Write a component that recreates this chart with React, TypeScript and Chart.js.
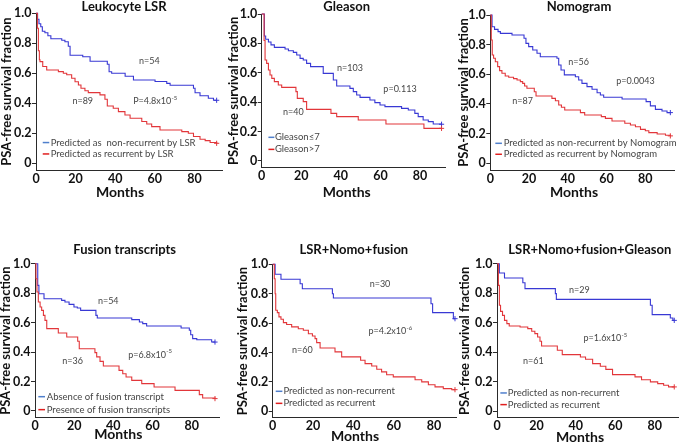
import React, { useEffect, useRef } from 'react';
import { Chart, registerables } from 'chart.js';

Chart.register(...registerables);

// ---------------- data ----------------
const xTicks = [0, 20, 40, 60, 80];
const yTicks = [0, 0.2, 0.4, 0.6, 0.8, 1.0];
const yTickLabels = ['0', '0.2', '0.4', '0.6', '0.8', '1.0'];

// Leukocyte LSR
const lsrNonRecMonths = [0, 0.8, 1.5, 2.4, 3.2, 4.5, 6, 7.5, 13, 14.6, 16.3, 17.2, 23.6, 27.3, 36, 36.9, 38.2, 45, 49.2, 60.1, 66, 67.7, 79.5, 80.3, 82.8, 87, 89.6, 91.2];
const lsrNonRecSurv = [1, 0.96, 0.93, 0.91, 0.88, 0.87, 0.85, 0.83, 0.82, 0.81, 0.78, 0.72, 0.71, 0.68, 0.66, 0.61, 0.6, 0.58, 0.555, 0.545, 0.533, 0.52, 0.5, 0.47, 0.45, 0.433, 0.42, 0.42];
const lsrRecMonths = [0, 0.7, 1.2, 1.7, 2, 3.4, 5.4, 11.3, 13.8, 15.5, 18, 19.7, 21.4, 22.7, 24.7, 26.4, 32.3, 34.8, 36, 39, 41.6, 44.9, 47.5, 53.4, 55.9, 58.4, 62.6, 73.6, 76.9, 79.5, 82.8, 85.4, 87.9, 91.2];
const lsrRecSurv = [1, 0.9, 0.75, 0.69, 0.678, 0.645, 0.622, 0.611, 0.6, 0.59, 0.567, 0.544, 0.522, 0.5, 0.484, 0.471, 0.456, 0.427, 0.382, 0.367, 0.344, 0.322, 0.3, 0.278, 0.262, 0.244, 0.222, 0.211, 0.2, 0.178, 0.16, 0.151, 0.138, 0.133];

// Gleason
const gleasonLowMonths = [0, 1.35, 2, 3.4, 4.7, 6.4, 11.8, 13.5, 16, 17.7, 19.4, 21, 22.7, 24.7, 31.1, 36.2, 37.9, 44.6, 46.3, 48, 49.7, 54.7, 57.2, 59.8, 62.3, 70.7, 74.1, 77.4, 79.1, 81.6, 84.2, 86.7, 90.9];
const gleasonLowSurv = [1, 0.85, 0.828, 0.81, 0.79, 0.773, 0.762, 0.75, 0.739, 0.721, 0.698, 0.687, 0.664, 0.642, 0.596, 0.551, 0.51, 0.494, 0.472, 0.449, 0.433, 0.415, 0.397, 0.381, 0.37, 0.358, 0.347, 0.324, 0.302, 0.279, 0.268, 0.252, 0.25];
const gleasonHighMonths = [0, 1.2, 1.7, 2.5, 3.4, 4.2, 5.1, 6.4, 8.4, 10.1, 17.3, 18, 21, 22.7, 35, 37.9, 48.8, 62.8, 82, 90.9];
const gleasonHighSurv = [1, 0.82, 0.687, 0.664, 0.619, 0.585, 0.562, 0.54, 0.517, 0.501, 0.472, 0.426, 0.404, 0.351, 0.324, 0.302, 0.279, 0.252, 0.222, 0.222];

// Nomogram
const nomoNonRecMonths = [0, 0.9, 2.2, 4, 5.2, 11.2, 17.4, 18.4, 19.8, 21.9, 24.1, 25.8, 34.4, 35.3, 36.5, 38.2, 43.9, 45.6, 47.3, 49.9, 52.5, 55.1, 56.8, 58.5, 68, 80.4, 82.6, 85.2, 88.6, 91.2, 92.9];
const nomoNonRecSurv = [1, 0.921, 0.903, 0.888, 0.876, 0.865, 0.843, 0.809, 0.787, 0.764, 0.742, 0.719, 0.708, 0.663, 0.629, 0.596, 0.584, 0.562, 0.539, 0.517, 0.499, 0.476, 0.461, 0.445, 0.434, 0.416, 0.387, 0.364, 0.353, 0.342, 0.342];
const nomoRecMonths = [0, 0.5, 1, 1.7, 2.6, 3.8, 4.8, 6, 7.7, 9.5, 12, 13.8, 15.5, 16.7, 17.7, 18.9, 22.7, 23.6, 31.8, 33.6, 35.3, 36.7, 38.4, 46.5, 48.7, 57.3, 59.4, 62.8, 69.4, 72.3, 74.9, 77.5, 80, 81.8, 86.1, 90.4, 92.9];
const nomoRecSurv = [1, 0.831, 0.73, 0.708, 0.685, 0.652, 0.625, 0.607, 0.589, 0.58, 0.571, 0.562, 0.551, 0.539, 0.521, 0.506, 0.483, 0.454, 0.438, 0.422, 0.393, 0.378, 0.36, 0.342, 0.326, 0.315, 0.303, 0.285, 0.27, 0.258, 0.247, 0.229, 0.22, 0.207, 0.198, 0.189, 0.185];

// Fusion transcripts
const fusionAbsentMonths = [0, 1.4, 2, 4.6, 13.6, 15.3, 17.4, 19.9, 21.6, 23.3, 31.1, 31.8, 49.4, 53.3, 55, 57, 74.6, 78.8, 79.5, 80.5, 82.6, 90.2, 91.9];
const fusionAbsentSurv = [1, 0.853, 0.796, 0.762, 0.751, 0.74, 0.724, 0.706, 0.699, 0.683, 0.649, 0.631, 0.62, 0.604, 0.593, 0.577, 0.563, 0.548, 0.518, 0.491, 0.484, 0.468, 0.468];
const fusionPresentMonths = [0, 0.5, 1, 1.7, 2.6, 3.4, 4.3, 5.1, 6, 11.9, 16.2, 21.8, 22.6, 30.6, 31.5, 33.2, 34.9, 42.9, 44.8, 46.5, 49.4, 54.5, 60.8, 71.5, 83.9, 85.6, 91.9];
const fusionPresentSurv = [1, 0.898, 0.808, 0.74, 0.706, 0.683, 0.649, 0.615, 0.559, 0.529, 0.502, 0.473, 0.423, 0.396, 0.367, 0.337, 0.305, 0.276, 0.253, 0.231, 0.208, 0.186, 0.163, 0.14, 0.111, 0.088, 0.084];

// LSR+Nomo+fusion
const comboNonRecMonths = [0, 1.2, 4.1, 13.6, 14.7, 29.6, 30.1, 78.5, 79.3, 89.6, 90.4];
const comboNonRecSurv = [1, 0.932, 0.898, 0.868, 0.834, 0.8, 0.771, 0.732, 0.671, 0.63, 0.63];
const comboRecMonths = [0, 0.8, 1.2, 1.5, 2.3, 3.1, 4.1, 5.3, 6.9, 9.4, 12.7, 15.2, 17.7, 19.7, 21, 21.8, 23.5, 30.9, 34.2, 43.6, 45.8, 49.1, 51.6, 54, 56.5, 59.8, 70.6, 73.9, 77.2, 80.5, 84.6, 88.8, 90.4];
const comboRecSurv = [1, 0.902, 0.8, 0.687, 0.671, 0.642, 0.626, 0.603, 0.59, 0.574, 0.562, 0.551, 0.528, 0.512, 0.494, 0.467, 0.431, 0.404, 0.37, 0.347, 0.324, 0.308, 0.286, 0.268, 0.249, 0.234, 0.215, 0.2, 0.181, 0.166, 0.154, 0.147, 0.147];

// LSR+Nomo+fusion+Gleason
const allNonRecMonths = [0, 1.2, 3.8, 13.1, 14.2, 29.6, 30.1, 77.8, 78.7, 87.9, 89.2, 89.9];
const allNonRecSurv = [1, 0.937, 0.903, 0.871, 0.831, 0.797, 0.758, 0.718, 0.655, 0.632, 0.616, 0.616];
const allRecMonths = [0, 0.7, 1.2, 1.8, 2.8, 3.8, 5, 6.2, 11.7, 15.6, 17.6, 19.2, 20.6, 21.8, 22.6, 30.6, 33.1, 42.3, 44.9, 48.5, 52.4, 55.2, 58.6, 70, 73.3, 77.8, 81.5, 84.5, 87, 89.9];
const allRecSurv = [1, 0.853, 0.718, 0.677, 0.65, 0.616, 0.594, 0.578, 0.571, 0.56, 0.542, 0.526, 0.503, 0.474, 0.442, 0.413, 0.384, 0.368, 0.352, 0.323, 0.305, 0.284, 0.248, 0.233, 0.214, 0.199, 0.187, 0.176, 0.165, 0.165];

// ---------------- styles & layout ----------------
const FAMILY = 'Lato, "Open Sans", "DejaVu Sans", sans-serif';
const BLUE = '#3838d4';
const RED = '#e2363a';
const LEG_BLUE = '#4f7fcc';
const LEG_RED = '#e01e1e';
const AXIS = '#2a2a2a';
const TEXT = '#454545';
const Y_MIN = -0.045;
const X_AXIS_H = 24;

type Ann = { x: number; y: number; text: string; sup?: string };
type Panel = {
  title: string;
  blue: { months: number[]; surv: number[]; label: string };
  red: { months: number[]; surv: number[]; label: string };
  anns: Ann[];
  legend: { x1: number; x2: number; tx: number; y1: number; y2: number };
  canvas: { left: number; top: number; width: number; height: number };
  area: { left: number; top: number; right: number; bottom: number };
  xMax: number;
  titlePos: [number, number];
  monthsPos: [number, number];
  yTitleX: number;
};

const panels: Panel[] = [
  {
    title: 'Leukocyte LSR',
    blue: { months: lsrNonRecMonths, surv: lsrNonRecSurv, label: 'Predicted as  non-recurrent by LSR' },
    red: { months: lsrRecMonths, surv: lsrRecSurv, label: 'Predicted as recurrent by LSR' },
    anns: [
      { x: 57.2, y: 0.684, text: 'n=54' },
      { x: 23.6, y: 0.416, text: 'n=89' },
      { x: 60.1, y: 0.416, text: 'P=4.8x10', sup: '-5' },
    ],
    legend: { x1: 3.4, x2: 6.7, tx: 7.4, y1: 0.138, y2: 0.062 },
    canvas: { left: 0, top: 0, width: 230, height: 222 },
    area: { left: 36, top: 13.3, right: 222.2, bottom: 170 },
    xMax: 94,
    titlePos: [124, 7],
    monthsPos: [120, 192],
    yTitleX: 7,
  },
  {
    title: 'Gleason',
    blue: { months: gleasonLowMonths, surv: gleasonLowSurv, label: 'Gleason\u22647' },
    red: { months: gleasonHighMonths, surv: gleasonHighSurv, label: 'Gleason>7' },
    anns: [
      { x: 44.6, y: 0.635, text: 'n=103' },
      { x: 69.9, y: 0.488, text: 'p=0.113' },
      { x: 16, y: 0.336, text: 'n=40' },
    ],
    legend: { x1: 3.4, x2: 6.4, tx: 6.7, y1: 0.161, y2: 0.079 },
    canvas: { left: 226, top: 0, width: 228, height: 222 },
    area: { left: 261.7, top: 14, right: 445.7, bottom: 167.6 },
    xMax: 93,
    titlePos: [346.7, 7],
    monthsPos: [346.7, 192.7],
    yTitleX: 234,
  },
  {
    title: 'Nomogram',
    blue: { months: nomoNonRecMonths, surv: nomoNonRecSurv, label: 'Predicted as non-recurrent by Nomogram' },
    red: { months: nomoRecMonths, surv: nomoRecSurv, label: 'Predicted as recurrent by Nomogram' },
    anns: [
      { x: 45.6, y: 0.685, text: 'n=56' },
      { x: 74.9, y: 0.555, text: 'p=0.0043' },
      { x: 16.7, y: 0.422, text: 'n=87' },
    ],
    legend: { x1: 2.6, x2: 6, tx: 6.9, y1: 0.135, y2: 0.061 },
    canvas: { left: 455, top: 0, width: 227, height: 222 },
    area: { left: 490.3, top: 15, right: 674.4, bottom: 170 },
    xMax: 95,
    titlePos: [579, 7],
    monthsPos: [574, 192.3],
    yTitleX: 463.7,
  },
  {
    title: 'Fusion transcripts',
    blue: { months: fusionAbsentMonths, surv: fusionAbsentSurv, label: 'Absence of fusion transcript' },
    red: { months: fusionPresentMonths, surv: fusionPresentSurv, label: 'Presence of fusion transcripts' },
    anns: [
      { x: 37.4, y: 0.747, text: 'n=54' },
      { x: 19.2, y: 0.337, text: 'n=36' },
      { x: 58.7, y: 0.382, text: 'p=6.8x10', sup: '-5' },
    ],
    legend: { x1: 1.7, x2: 5.1, tx: 6, y1: 0.097, y2: 0.009 },
    canvas: { left: 0, top: 222, width: 230, height: 222 },
    area: { left: 35, top: 263.7, right: 219.1, bottom: 417.6 },
    xMax: 94,
    titlePos: [124.7, 250],
    monthsPos: [118.3, 434],
    yTitleX: 5.7,
  },
  {
    title: 'LSR+Nomo+fusion',
    blue: { months: comboNonRecMonths, surv: comboNonRecSurv, label: 'Predicted as non-recurrent' },
    red: { months: comboRecMonths, surv: comboRecSurv, label: 'Predicted as recurrent' },
    anns: [
      { x: 53.2, y: 0.862, text: 'n=30' },
      { x: 58.3, y: 0.544, text: 'p=4.2x10', sup: '-6' },
      { x: 14.7, y: 0.415, text: 'n=60' },
    ],
    legend: { x1: 1.5, x2: 4.8, tx: 5.3, y1: 0.136, y2: 0.054 },
    canvas: { left: 232, top: 222, width: 230, height: 222 },
    area: { left: 272.7, top: 264.3, right: 456.2, bottom: 417.9 },
    xMax: 91,
    titlePos: [353.8, 250],
    monthsPos: [355, 436],
    yTitleX: 243.3,
  },
  {
    title: 'LSR+Nomo+fusion+Gleason',
    blue: { months: allNonRecMonths, surv: allNonRecSurv, label: 'Predicted as non-recurrent' },
    red: { months: allRecMonths, surv: allRecSurv, label: 'Predicted as recurrent' },
    anns: [
      { x: 41.8, y: 0.819, text: 'n=29' },
      { x: 54.9, y: 0.497, text: 'p=1.6x10', sup: '-5' },
      { x: 18.4, y: 0.341, text: 'n=61' },
    ],
    legend: { x1: 1.7, x2: 5, tx: 5.5, y1: 0.124, y2: 0.045 },
    canvas: { left: 456, top: 222, width: 226, height: 222 },
    area: { left: 497, top: 263.7, right: 680.1, bottom: 417.9 },
    xMax: 92,
    titlePos: [589.8, 250],
    monthsPos: [580, 437],
    yTitleX: 465.3,
  },
];

function toPoints(months: number[], surv: number[]) {
  return months.map((m, i) => ({ x: m, y: surv[i] }));
}

function endMarks(n: number) {
  return Array.from({ length: n }, (_, i) => (i === n - 1 ? 2.6 : 0));
}

function KMPanel({ p }: { p: Panel }) {
  const ref = useRef<HTMLCanvasElement | null>(null);

  useEffect(() => {
    if (!ref.current) return;
    const { canvas: cv, area } = p;
    const yAxisW = area.left - cv.left;
    const pad = {
      left: 0,
      top: area.top - cv.top,
      right: cv.left + cv.width - area.right,
      bottom: cv.top + cv.height - area.bottom - X_AXIS_H,
    };

    const textPlugin = {
      id: 'kmText',
      afterDraw(chart: any) {
        const ctx = chart.ctx as CanvasRenderingContext2D;
        const xs = chart.scales.x;
        const ys = chart.scales.y;
        ctx.save();
        ctx.textBaseline = 'middle';
        // title
        ctx.fillStyle = '#111';
        ctx.textAlign = 'center';
        ctx.font = `bold 13px ${FAMILY}`;
        ctx.fillText(p.title, p.titlePos[0] - cv.left, p.titlePos[1] - cv.top);
        // x axis title
        ctx.font = `bold 14px ${FAMILY}`;
        ctx.fillText('Months', p.monthsPos[0] - cv.left, p.monthsPos[1] - cv.top);
        // annotations
        ctx.fillStyle = TEXT;
        ctx.textAlign = 'left';
        p.anns.forEach((a) => {
          ctx.font = `9px ${FAMILY}`;
          const w1 = ctx.measureText(a.text).width;
          let w2 = 0;
          if (a.sup) {
            ctx.font = `6px ${FAMILY}`;
            w2 = ctx.measureText(a.sup).width;
          }
          const px = xs.getPixelForValue(a.x) - (w1 + w2) / 2;
          const py = ys.getPixelForValue(a.y);
          ctx.font = `9px ${FAMILY}`;
          ctx.fillText(a.text, px, py);
          if (a.sup) {
            ctx.font = `6px ${FAMILY}`;
            ctx.fillText(a.sup, px + w1 + 0.3, py - 3.2);
          }
        });
        // legend
        const lg = p.legend;
        const items = [
          { y: lg.y1, color: LEG_BLUE, text: p.blue.label },
          { y: lg.y2, color: LEG_RED, text: p.red.label },
        ];
        items.forEach((it) => {
          const py = ys.getPixelForValue(it.y);
          ctx.strokeStyle = it.color;
          ctx.lineWidth = 1.5;
          ctx.beginPath();
          ctx.moveTo(xs.getPixelForValue(lg.x1), py);
          ctx.lineTo(xs.getPixelForValue(lg.x2), py);
          ctx.stroke();
          ctx.fillStyle = TEXT;
          ctx.font = `9.5px ${FAMILY}`;
          ctx.fillText(it.text, xs.getPixelForValue(lg.tx), py);
        });
        ctx.restore();
      },
    };

    const chart = new Chart(ref.current, {
      type: 'line',
      data: {
        datasets: [
          {
            label: p.red.label,
            data: toPoints(p.red.months, p.red.surv),
            borderColor: RED,
            backgroundColor: RED,
            borderWidth: 1.1,
            stepped: true,
            fill: false,
            pointStyle: 'cross',
            pointRadius: endMarks(p.red.months.length),
            pointBorderColor: RED,
            pointBorderWidth: 1,
            pointHoverRadius: 0,
            clip: false as any,
          },
          {
            label: p.blue.label,
            data: toPoints(p.blue.months, p.blue.surv),
            borderColor: BLUE,
            backgroundColor: BLUE,
            borderWidth: 1.1,
            stepped: true,
            fill: false,
            pointStyle: 'cross',
            pointRadius: endMarks(p.blue.months.length),
            pointBorderColor: BLUE,
            pointBorderWidth: 1,
            pointHoverRadius: 0,
            clip: false as any,
          },
        ],
      },
      options: {
        responsive: false,
        animation: false,
        devicePixelRatio: 1,
        layout: { padding: pad },
        events: [],
        plugins: {
          legend: { display: false },
          tooltip: { enabled: false },
          title: { display: false },
        },
        scales: {
          x: {
            type: 'linear',
            min: 0,
            max: p.xMax,
            afterBuildTicks: (s: any) => {
              s.ticks = xTicks.map((v) => ({ value: v }));
            },
            afterFit: (s: any) => {
              s.height = X_AXIS_H;
            },
            ticks: {
              autoSkip: false,
              maxRotation: 0,
              minRotation: 0,
              padding: 1,
              color: '#111',
              font: { family: FAMILY, size: 12.5, weight: 'bold' },
              callback: (_v: any, i: number) => String(xTicks[i]),
            },
            grid: { display: false, drawTicks: false, tickLength: 0 },
            border: { display: true, color: AXIS, width: 1 },
          },
          y: {
            type: 'linear',
            min: Y_MIN,
            max: 1,
            afterBuildTicks: (s: any) => {
              s.ticks = yTicks.map((v) => ({ value: v }));
            },
            afterFit: (s: any) => {
              s.width = yAxisW;
            },
            ticks: {
              autoSkip: false,
              padding: 0.5,
              color: '#111',
              font: { family: FAMILY, size: 12.5, weight: 'bold' },
              callback: (_v: any, i: number) => yTickLabels[i],
            },
            grid: {
              display: true,
              drawOnChartArea: false,
              drawTicks: true,
              tickLength: 4,
              color: AXIS,
              tickColor: AXIS,
            },
            border: { display: true, color: AXIS, width: 1 },
            title: {
              display: true,
              text: 'PSA-free survival fraction',
              color: '#111',
              font: { family: FAMILY, size: 13, weight: 'bold', lineHeight: '10px' },
              padding: { top: p.yTitleX - cv.left - 5, bottom: 0 },
            },
          },
        },
      } as any,
      plugins: [textPlugin],
    });
    return () => chart.destroy();
  }, [p]);

  const { canvas: cv } = p;
  return (
    <canvas
      ref={ref}
      width={cv.width}
      height={cv.height}
      style={{ position: 'absolute', left: cv.left, top: cv.top, width: cv.width, height: cv.height }}
    />
  );
}

export default function App() {
  return (
    <div
      style={{
        position: 'absolute',
        left: 0,
        top: 0,
        width: 682,
        height: 444,
        background: '#ffffff',
        overflow: 'hidden',
      }}
    >
      {panels.map((p, i) => (
        <KMPanel key={i} p={p} />
      ))}
    </div>
  );
}
